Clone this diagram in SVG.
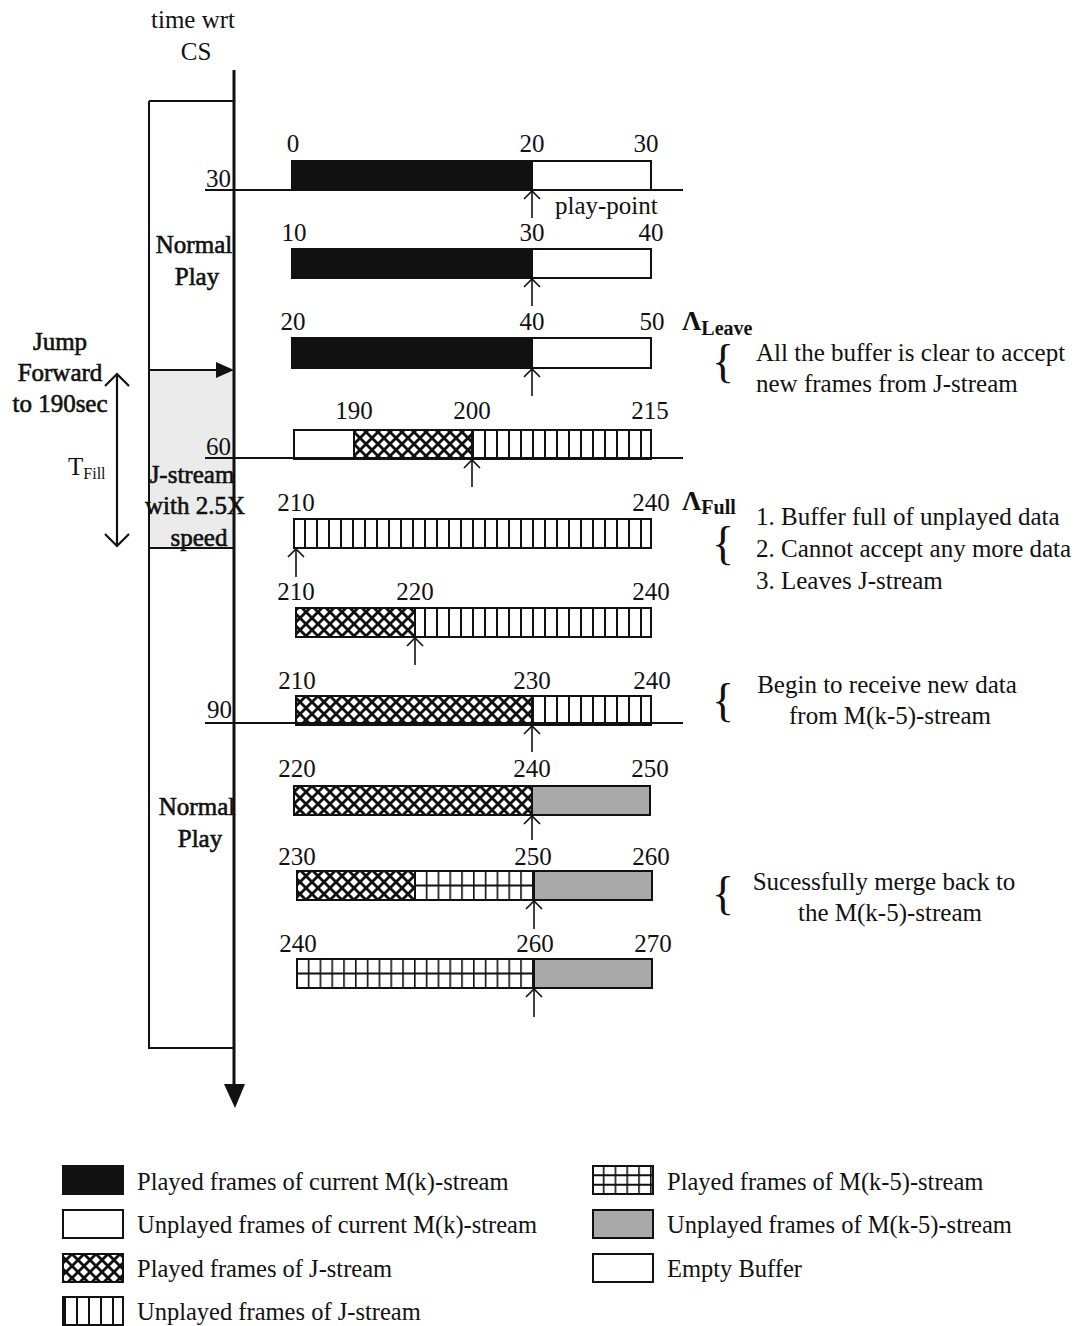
<svg xmlns="http://www.w3.org/2000/svg" width="1080" height="1326" viewBox="0 0 1080 1326">
<style>
text{font-family:"Liberation Serif","Times New Roman",serif;fill:#111;font-size:25px}
.m{text-anchor:middle}
.e{text-anchor:end}
.b{font-weight:bold;font-size:27px}
.hv{stroke:#111;stroke-width:0.6}
.sub{font-size:20px;font-weight:bold}
.br{font-size:46px}
.lg{font-size:24.5px}
.seg{stroke:#111;stroke-width:2}
.ln{stroke:#111;stroke-width:2;fill:none}
.pp{stroke:#111;stroke-width:1.6;fill:none;marker-end:url(#open)}
</style>
<defs>
<pattern id="cross" width="12" height="12" patternUnits="userSpaceOnUse">
<rect width="12" height="12" fill="#111"/>
<polygon points="6,2 10,6 6,10 2,6" fill="#fff"/>
<polygon points="0,-4 4,0 0,4 -4,0" fill="#fff"/>
<polygon points="12,-4 16,0 12,4 8,0" fill="#fff"/>
<polygon points="0,8 4,12 0,16 -4,12" fill="#fff"/>
<polygon points="12,8 16,12 12,16 8,12" fill="#fff"/>
</pattern>
<pattern id="vs" width="12" height="20" patternUnits="userSpaceOnUse" x="4">
<rect width="12" height="20" fill="#fff"/>
<rect x="0" y="0" width="2" height="20" fill="#111"/>
</pattern>
<pattern id="vg" width="11.8" height="20" patternUnits="userSpaceOnUse" x="1">
<rect width="11.8" height="20" fill="#fff"/>
<rect x="0" y="0" width="1.6" height="20" fill="#111"/>
</pattern>
<marker id="open" viewBox="0 0 8 16" refX="8" refY="8" markerWidth="8" markerHeight="16" markerUnits="userSpaceOnUse" orient="auto" overflow="visible">
<path d="M0,0 L8,8 L0,16" fill="none" stroke="#111" stroke-width="1.6"/>
</marker>
<marker id="openL" viewBox="0 0 12 24" refX="12" refY="12" markerWidth="12" markerHeight="24" markerUnits="userSpaceOnUse" orient="auto" overflow="visible">
<path d="M0,0 L12,12 L0,24" fill="none" stroke="#111" stroke-width="2.2"/>
</marker>
<marker id="openLs" viewBox="0 0 12 24" refX="12" refY="12" markerWidth="12" markerHeight="24" markerUnits="userSpaceOnUse" orient="auto-start-reverse" overflow="visible">
<path d="M0,0 L12,12 L0,24" fill="none" stroke="#111" stroke-width="2.2"/>
</marker>
</defs>
<rect width="1080" height="1326" fill="#fff"/>

<g id="timeline">
<rect x="149" y="370" width="85" height="178" fill="#ebebeb"/>
<path class="ln" d="M149,101 H234 M149,101 V1048 H234 M149,548 H234"/>
<text class="m" x="193" y="28">time wrt</text>
<text class="m" x="196" y="60">CS</text>
<text class="e" x="231" y="187">30</text>
<text class="e" x="231" y="455">60</text>
<text class="e" x="232" y="718">90</text>
<text class="m hv" x="194" y="253">Normal</text>
<text class="m hv" x="197" y="285">Play</text>
<text class="m hv" x="192" y="483">J-stream</text>
<text class="m hv" x="195" y="514">with 2.5X</text>
<text class="m hv" x="199" y="546">speed</text>
<text class="m hv" x="197" y="815">Normal</text>
<text class="m hv" x="200" y="847">Play</text>
</g>

<g id="jump-label">
<text class="m hv" x="60" y="350">Jump</text>
<text class="m hv" x="60" y="381">Forward</text>
<text class="m hv" x="60" y="412">to 190sec</text>
<text x="68" y="475">T<tspan font-size="16" dy="4">Fill</tspan></text>
</g>

<g id="row1">
<rect class="seg" x="292" y="161" width="240" height="29" fill="#111"/>
<rect class="seg" x="532" y="161" width="119" height="29" fill="#fff"/>
<text class="m" x="293" y="152">0</text>
<text class="m" x="532" y="152">20</text>
<text class="m" x="646" y="152">30</text>
<text x="555" y="214">play-point</text>
</g>
<g id="row2">
<rect class="seg" x="292" y="249" width="240" height="29" fill="#111"/>
<rect class="seg" x="532" y="249" width="119" height="29" fill="#fff"/>
<text class="m" x="294" y="241">10</text>
<text class="m" x="532" y="241">30</text>
<text class="m" x="651" y="241">40</text>
</g>
<g id="row3">
<rect class="seg" x="292" y="338" width="240" height="30" fill="#111"/>
<rect class="seg" x="532" y="338" width="119" height="30" fill="#fff"/>
<text class="m" x="293" y="330">20</text>
<text class="m" x="532" y="330">40</text>
<text class="m" x="652" y="330">50</text>
</g>
<g id="row4">
<rect class="seg" x="294" y="430" width="60" height="29" fill="#fff"/>
<rect class="seg" x="354" y="430" width="118" height="29" fill="url(#cross)"/>
<rect class="seg" x="472" y="430" width="179" height="29" fill="url(#vs)"/>
<text class="m" x="354" y="419">190</text>
<text class="m" x="472" y="419">200</text>
<text class="m" x="650" y="419">215</text>
</g>
<g id="row5">
<rect class="seg" x="294" y="519" width="357" height="29" fill="url(#vs)"/>
<text class="m" x="296" y="511">210</text>
<text class="m" x="651" y="511">240</text>
</g>
<g id="row6">
<rect class="seg" x="296" y="608" width="119" height="29" fill="url(#cross)"/>
<rect class="seg" x="415" y="608" width="236" height="29" fill="url(#vs)"/>
<text class="m" x="296" y="600">210</text>
<text class="m" x="415" y="600">220</text>
<text class="m" x="651" y="600">240</text>
</g>
<g id="row7">
<rect class="seg" x="296" y="696" width="236" height="29" fill="url(#cross)"/>
<rect class="seg" x="532" y="696" width="119" height="29" fill="url(#vs)"/>
<text class="m" x="297" y="689">210</text>
<text class="m" x="532" y="689">230</text>
<text class="m" x="652" y="689">240</text>
</g>
<g id="row8">
<rect class="seg" x="294" y="786" width="238" height="29" fill="url(#cross)"/>
<rect class="seg" x="532" y="786" width="118" height="29" fill="#a9a9a9"/>
<text class="m" x="297" y="777">220</text>
<text class="m" x="532" y="777">240</text>
<text class="m" x="650" y="777">250</text>
</g>
<g id="row9">
<rect class="seg" x="297" y="871" width="118" height="29" fill="url(#cross)"/>
<rect class="seg" x="415" y="871" width="119" height="29" fill="url(#vg)"/>
<path class="ln" d="M415,885.5 H534" stroke-width="1.6"/>
<rect class="seg" x="534" y="871" width="118" height="29" fill="#a9a9a9"/>
<text class="m" x="297" y="865">230</text>
<text class="m" x="533" y="865">250</text>
<text class="m" x="651" y="865">260</text>
</g>
<g id="row10">
<rect class="seg" x="297" y="959" width="237" height="29" fill="url(#vg)"/>
<path class="ln" d="M297,973.5 H534" stroke-width="1.6"/>
<rect class="seg" x="534" y="959" width="118" height="29" fill="#a9a9a9"/>
<text class="m" x="298" y="952">240</text>
<text class="m" x="535" y="952">260</text>
<text class="m" x="653" y="952">270</text>
</g>

<g id="note-leave">
<text class="b" x="682" y="330">Λ<tspan class="sub" dy="5">Leave</tspan></text>
<text class="br" x="712" y="377">{</text>
<text x="756" y="361">All the buffer is clear to accept</text>
<text x="756" y="392">new frames from J-stream</text>
</g>
<g id="note-full">
<text class="b" x="682" y="510">Λ<tspan class="sub" dy="4">Full</tspan></text>
<text class="br" x="712" y="559">{</text>
<text x="756" y="525">1. Buffer full of unplayed data</text>
<text x="756" y="557">2. Cannot accept any more data</text>
<text x="756" y="589">3. Leaves J-stream</text>
</g>
<g id="note-begin">
<text class="br" x="712" y="716">{</text>
<text class="m" x="887" y="693">Begin to receive new data</text>
<text class="m" x="890" y="724">from M(k-5)-stream</text>
</g>
<g id="note-merge">
<text class="br" x="712" y="909">{</text>
<text class="m" x="884" y="890">Sucessfully merge back to</text>
<text class="m" x="890" y="921">the M(k-5)-stream</text>
</g>

<g id="connectors">
<path d="M234,70 V1088" stroke="#111" stroke-width="3" fill="none"/>
<polygon points="224,1084 245,1084 235,1108" fill="#111"/>
<path class="ln" d="M205,190 H683 M205,458 H683 M205,723 H683"/>
<path class="ln" d="M149,370 H220"/>
<polygon points="216,362 234,370 216,378" fill="#111"/>
<path d="M117,374 V546" stroke="#111" stroke-width="2.2" fill="none" marker-start="url(#openLs)" marker-end="url(#openL)"/>
<path class="pp" d="M532,218 V191"/>
<path class="pp" d="M532,306 V279"/>
<path class="pp" d="M532,396 V369"/>
<path class="pp" d="M472,487 V460"/>
<path class="pp" d="M296,577 V549"/>
<path class="pp" d="M415,665 V638"/>
<path class="pp" d="M532,752 V726"/>
<path class="pp" d="M532,840 V816"/>
<path class="pp" d="M534,929 V901"/>
<path class="pp" d="M534,1017 V989"/>
</g>

<g id="legend">
<rect class="seg" x="63" y="1166" width="60" height="28" fill="#111"/>
<text class="lg" x="137" y="1190">Played frames of current M(k)-stream</text>
<rect class="seg" x="63" y="1210" width="60" height="28" fill="#fff"/>
<text class="lg" x="137" y="1233">Unplayed frames of current M(k)-stream</text>
<rect class="seg" x="63" y="1254" width="60" height="28" fill="url(#cross)"/>
<text class="lg" x="137" y="1277">Played frames of J-stream</text>
<rect class="seg" x="63" y="1297" width="60" height="28" fill="url(#vs)"/>
<text class="lg" x="137" y="1320">Unplayed frames of J-stream</text>
<rect class="seg" x="593" y="1166" width="60" height="28" fill="url(#vg)"/>
<path class="ln" d="M593,1175.3 H653 M593,1184.7 H653" stroke-width="1.6"/>
<text class="lg" x="667" y="1190">Played frames of M(k-5)-stream</text>
<rect class="seg" x="593" y="1210" width="60" height="28" fill="#a9a9a9"/>
<text class="lg" x="667" y="1233">Unplayed frames of M(k-5)-stream</text>
<rect class="seg" x="593" y="1254" width="60" height="28" fill="#fff"/>
<text class="lg" x="667" y="1277">Empty Buffer</text>
</g>
</svg>
